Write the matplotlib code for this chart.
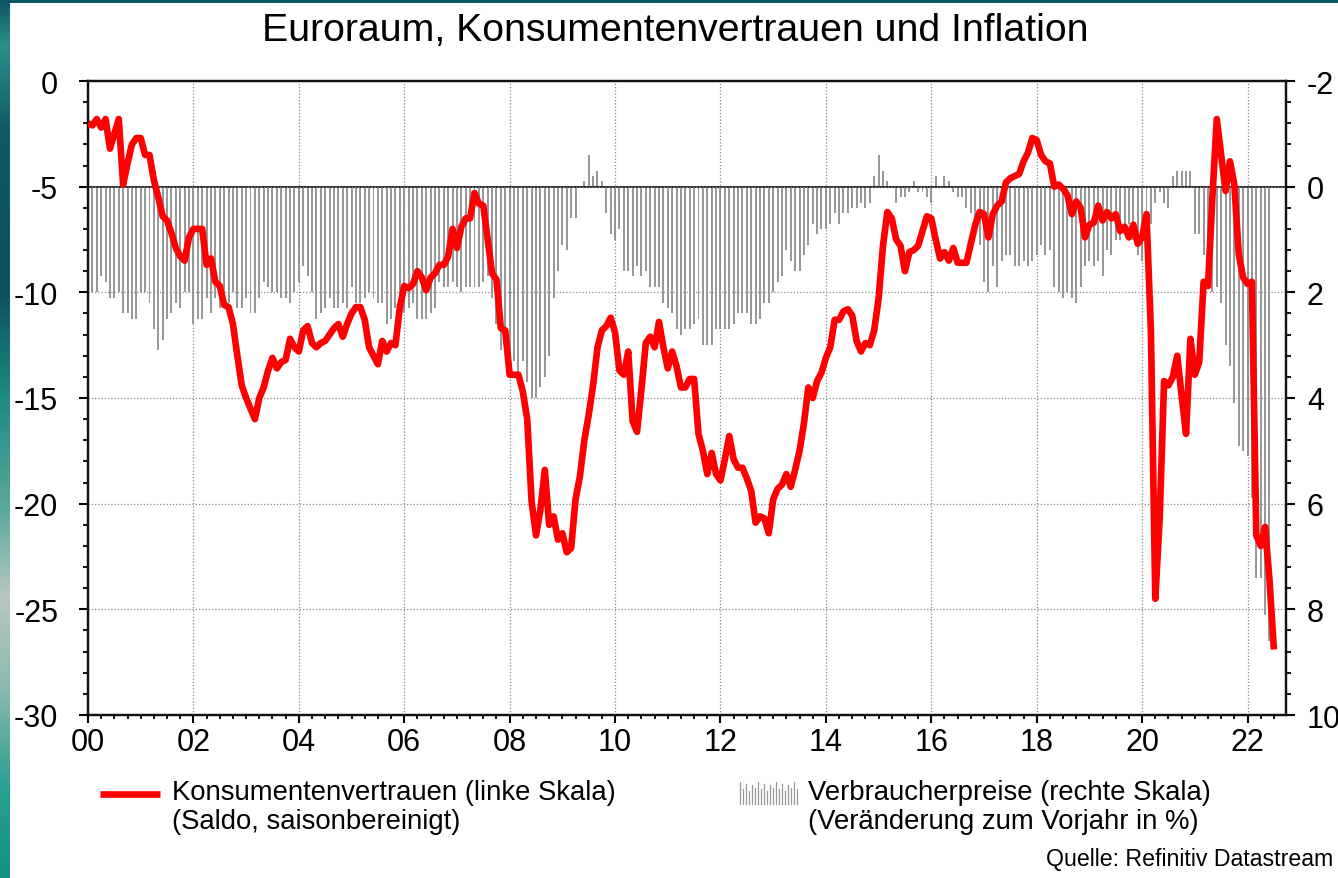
import numpy as np
import matplotlib

matplotlib.use("Agg")
import matplotlib.pyplot as plt
from matplotlib.colors import LinearSegmentedColormap
from matplotlib.lines import Line2D
from matplotlib.patches import Rectangle
from matplotlib.ticker import FixedLocator, MultipleLocator


# Consumer confidence, euro area, monthly from Jan 2000 (balance, s.a.)
CONFIDENCE = [
    -2.0, -2.1, -1.8, -2.2, -1.8, -3.2, -2.5, -1.8, -4.9, -3.9, -3.0, -2.7,  # 2000
    -2.7, -3.5, -3.5, -4.7, -5.5, -6.4, -6.6, -7.2, -7.9, -8.3, -8.5, -7.4,  # 2001
    -7.0, -7.0, -7.0, -8.7, -8.4, -9.5, -9.7, -10.6, -10.7, -11.5, -13.0, -14.4,  # 2002
    -15.0, -15.5, -16.0, -15.0, -14.5, -13.7, -13.1, -13.6, -13.3, -13.2, -12.2, -12.6,  # 2003
    -12.8, -11.8, -11.6, -12.4, -12.6, -12.4, -12.3, -12.0, -11.7, -11.5, -12.1, -11.5,  # 2004
    -11.0, -10.7, -10.7, -11.3, -12.6, -13.0, -13.4, -12.3, -12.8, -12.4, -12.5, -10.7,  # 2005
    -9.7, -9.8, -9.6, -9.0, -9.3, -9.9, -9.3, -9.1, -8.7, -8.7, -8.3, -7.0,  # 2006
    -7.9, -6.9, -6.5, -6.5, -5.3, -5.8, -5.9, -7.5, -9.1, -9.4, -11.7, -11.8,  # 2007
    -13.9, -13.9, -13.9, -14.7, -16.0, -19.9, -21.5, -20.3, -18.4, -21.0, -20.6, -21.7,  # 2008
    -21.4, -22.3, -22.1, -19.8, -18.7, -17.0, -15.8, -14.4, -12.6, -11.8, -11.6, -11.2,  # 2009
    -11.9, -13.7, -13.9, -12.8, -16.1, -16.6, -14.6, -12.4, -12.1, -12.6, -11.4, -12.6,  # 2010
    -13.6, -12.8, -13.5, -14.5, -14.5, -14.1, -14.1, -16.7, -17.5, -18.6, -17.6, -18.6,  # 2011
    -18.9, -17.9, -16.8, -17.9, -18.3, -18.3, -18.8, -19.4, -20.9, -20.6, -20.7, -21.4,  # 2012
    -19.8, -19.3, -19.1, -18.6, -19.2, -18.4, -17.5, -16.2, -14.5, -15.0, -14.2, -13.8,  # 2013
    -13.1, -12.6, -11.3, -11.3, -10.9, -10.8, -11.1, -12.3, -12.8, -12.4, -12.5, -11.8,  # 2014
    -10.3, -7.8, -6.2, -6.5, -7.5, -7.8, -9.0, -8.1, -8.0, -7.8, -7.1, -6.4,  # 2015
    -6.5, -7.5, -8.4, -8.1, -8.5, -7.9, -8.6, -8.6, -8.6, -7.7, -6.8, -6.2,  # 2016
    -6.3, -7.4, -6.3, -5.9, -5.7, -4.8, -4.6, -4.5, -4.4, -3.8, -3.4, -2.7,  # 2017
    -2.8, -3.5, -3.8, -3.9, -5.0, -4.9, -5.1, -5.4, -6.3, -5.7, -6.0, -7.4,  # 2018
    -6.8, -6.7, -5.9, -6.6, -6.2, -6.5, -6.3, -7.1, -6.9, -7.4, -6.8, -7.7,  # 2019
    -7.4, -6.3, -11.8, -24.5, -20.7, -14.2, -14.4, -14.0, -13.0, -14.9, -16.7, -12.2,  # 2020
    -13.9, -13.3, -9.5, -9.7, -5.5, -1.8, -3.5, -5.2, -3.8, -4.9, -8.2, -9.3,  # 2021
    -9.6, -9.5, -21.5, -22.0, -21.1, -23.6, -26.9,  # 2022
]

# Consumer prices, euro area, % yoy, monthly from Jan 2000
INFLATION = [
    1.9, 2.0, 2.0, 1.7, 1.8, 2.1, 2.1, 2.0, 2.4, 2.4, 2.5, 2.5,  # 2000
    2.0, 2.0, 2.2, 2.7, 3.1, 2.9, 2.5, 2.4, 2.2, 2.3, 2.0, 2.0,  # 2001
    2.6, 2.5, 2.5, 2.1, 2.4, 2.1, 2.3, 2.2, 2.2, 2.0, 2.3, 2.3,  # 2002
    2.1, 2.4, 2.4, 2.1, 1.8, 1.9, 2.0, 2.0, 2.1, 2.1, 2.2, 2.0,  # 2003
    1.8, 1.5, 1.7, 2.0, 2.5, 2.4, 2.3, 2.1, 2.3, 2.3, 2.2, 2.3,  # 2004
    1.9, 2.2, 2.2, 2.1, 2.0, 2.1, 2.2, 2.2, 2.6, 2.5, 2.3, 2.2,  # 2005
    2.4, 2.3, 2.2, 2.5, 2.5, 2.5, 2.4, 2.3, 1.8, 1.9, 1.9, 1.8,  # 2006
    1.9, 2.0, 1.9, 1.9, 1.9, 1.9, 1.8, 1.7, 2.1, 2.6, 3.1, 3.1,  # 2007
    3.2, 3.3, 3.6, 3.3, 3.7, 4.0, 4.0, 3.8, 3.6, 3.2, 2.1, 1.6,  # 2008
    1.1, 1.2, 0.6, 0.6, 0.0, -0.1, -0.6, -0.2, -0.3, -0.1, 0.5, 0.9,  # 2009
    1.0, 0.8, 1.6, 1.6, 1.7, 1.5, 1.7, 1.6, 1.9, 1.9, 1.9, 2.2,  # 2010
    2.3, 2.4, 2.7, 2.8, 2.7, 2.7, 2.6, 2.5, 3.0, 3.0, 3.0, 2.7,  # 2011
    2.7, 2.7, 2.7, 2.6, 2.4, 2.4, 2.4, 2.6, 2.6, 2.5, 2.2, 2.2,  # 2012
    2.0, 1.8, 1.7, 1.2, 1.4, 1.6, 1.6, 1.3, 1.1, 0.7, 0.9, 0.8,  # 2013
    0.8, 0.7, 0.5, 0.7, 0.5, 0.5, 0.4, 0.4, 0.3, 0.4, 0.3, -0.2,  # 2014
    -0.6, -0.3, -0.1, 0.0, 0.3, 0.2, 0.2, 0.1, -0.1, 0.1, 0.1, 0.2,  # 2015
    0.3, -0.2, 0.0, -0.2, -0.1, 0.1, 0.2, 0.2, 0.4, 0.5, 0.6, 1.1,  # 2016
    1.8, 2.0, 1.5, 1.9, 1.4, 1.3, 1.3, 1.5, 1.5, 1.4, 1.5, 1.4,  # 2017
    1.3, 1.1, 1.3, 1.2, 1.9, 2.0, 2.1, 2.0, 2.1, 2.2, 1.9, 1.5,  # 2018
    1.4, 1.5, 1.4, 1.7, 1.2, 1.3, 1.0, 1.0, 0.8, 0.7, 1.0, 1.3,  # 2019
    1.4, 1.2, 0.7, 0.3, 0.1, 0.3, 0.4, -0.2, -0.3, -0.3, -0.3, -0.3,  # 2020
    0.9, 0.9, 1.3, 1.6, 2.0, 1.9, 2.2, 3.0, 3.4, 4.1, 4.9, 5.0,  # 2021
    5.1, 5.9, 7.4, 7.4, 8.1, 8.6,  # 2022
]

START_YEAR = 2000
X_TICKS = list(range(2000, 2023, 2))
X_LABELS = [f"{y % 100:02d}" for y in X_TICKS]

TITLE = "Euroraum, Konsumentenvertrauen und Inflation"
LEGEND_LINE = ["Konsumentenvertrauen (linke Skala)", "(Saldo, saisonbereinigt)"]
LEGEND_BARS = ["Verbraucherpreise (rechte Skala)", "(Veränderung zum Vorjahr in %)"]
SOURCE = "Quelle: Refinitiv Datastream"

W, H = 1338, 879
RED = "#ff0000"
GREY = "#999999"
FONT = "Liberation Sans"


def fx(px):
    return px / W


def fy(py):
    return 1 - py / H


def main() -> None:
    plt.rcParams["font.family"] = [FONT, "DejaVu Sans"]
    plt.rcParams["axes.unicode_minus"] = False

    fig = plt.figure(figsize=(W / 100, H / 100), dpi=100)

    # teal frame behind the white panel
    bg = fig.add_axes([0, 0, 1, 1], zorder=-5)
    cmap = LinearSegmentedColormap.from_list(
        "frame",
        [
            (0.00, "#0d5563"),
            (0.05, "#2b8f8a"),
            (0.15, "#0e5a66"),
            (0.33, "#0b5060"),
            (0.45, "#1c8a7e"),
            (0.58, "#5aa89c"),
            (0.68, "#b6c8c1"),
            (0.78, "#8fbab1"),
            (0.90, "#2aa08f"),
            (1.00, "#149182"),
        ],
    )
    bg.imshow(np.linspace(0, 1, 256).reshape(-1, 1), cmap=cmap, aspect="auto",
              extent=[0, 1, 0, 1])
    bg.add_patch(Rectangle((fx(10), 0), 1, fy(4), color="white", lw=0))
    bg.set_xlim(0, 1)
    bg.set_ylim(0, 1)
    bg.axis("off")

    ax = fig.add_axes([fx(88), fy(716), fx(1286 - 88), (716 - 82) / H])
    ax2 = ax.twinx()
    ax.set_zorder(ax2.get_zorder() + 1)
    ax.patch.set_visible(False)

    months = np.arange(len(CONFIDENCE))
    x_conf = START_YEAR + months / 12
    x_cpi = START_YEAR + np.arange(len(INFLATION)) / 12

    ax2.bar(x_cpi, INFLATION, width=0.45 / 12, color=GREY, lw=0, zorder=2)
    ax2.axhline(0, color="#1a1a1a", lw=1.3, zorder=3)
    ax.plot(x_conf, CONFIDENCE, color=RED, lw=4.8, solid_joinstyle="round",
            solid_capstyle="butt", zorder=4)

    ax.set_xlim(2000, 2022.73)
    ax.set_ylim(-30, 0)
    ax2.set_ylim(10, -2)

    ax.xaxis.set_major_locator(FixedLocator(X_TICKS))
    ax.set_xticklabels(X_LABELS)
    ax.xaxis.set_minor_locator(MultipleLocator(0.25))
    ax.yaxis.set_major_locator(MultipleLocator(5))
    ax.yaxis.set_minor_locator(MultipleLocator(1))
    ax2.yaxis.set_major_locator(MultipleLocator(2))
    ax2.yaxis.set_minor_locator(MultipleLocator(0.4))
    ax2.yaxis.set_major_formatter(plt.FuncFormatter(lambda v, p: f"{v:g}"))

    ax.grid(True, which="major", color="#8a8a8a", lw=0.9, linestyle=(0, (1, 1.6)))
    ax.set_axisbelow(True)

    for a in (ax, ax2):
        for sp in a.spines.values():
            sp.set_linewidth(1.6)
            sp.set_color("#111111")

    ax.tick_params(axis="y", which="major", length=6.5, width=1.5, pad=15,
                   labelsize=22)
    ax.tick_params(axis="y", which="minor", length=3.5, width=1.3)
    ax.tick_params(axis="x", which="major", length=6, width=1.5, pad=3,
                   labelsize=22)
    ax.tick_params(axis="x", which="minor", length=3, width=1.3)
    ax2.tick_params(axis="y", which="major", length=6.5, width=1.5, pad=8.5,
                    labelsize=22)
    ax2.tick_params(axis="y", which="minor", length=3.5, width=1.3)

    fig.text(fx(675), fy(41), TITLE, ha="center", va="baseline", fontsize=28.3)

    # legend, drawn by hand so the key sits on the first text line
    fs = 19.8
    fig.add_artist(Line2D([fx(100), fx(160)], [fy(795), fy(795)], color=RED,
                          lw=4.8, solid_capstyle="butt"))
    fig.text(fx(172), fy(800), LEGEND_LINE[0], fontsize=fs, va="baseline")
    fig.text(fx(172), fy(829), LEGEND_LINE[1], fontsize=fs, va="baseline")

    key_heights = [1.0, 0.7, 0.9, 0.6, 0.85, 0.75]
    for i, xk in enumerate(np.linspace(740, 797, 20)):
        top = 805 - 22 * key_heights[i % len(key_heights)]
        fig.add_artist(Line2D([fx(xk), fx(xk)], [fy(805), fy(top)], color=GREY,
                              lw=0.9))
    fig.text(fx(808), fy(800), LEGEND_BARS[0], fontsize=fs, va="baseline")
    fig.text(fx(808), fy(829), LEGEND_BARS[1], fontsize=fs, va="baseline")

    fig.text(fx(1333), fy(866), SOURCE, ha="right", va="baseline", fontsize=16.7)

    fig.savefig("out.png", dpi=100)
    plt.close(fig)


if __name__ == "__main__":
    main()
